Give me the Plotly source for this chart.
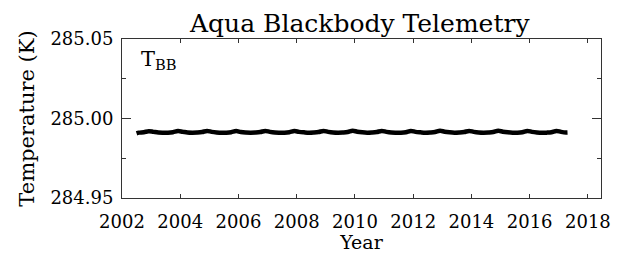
import plotly.graph_objects as go

years = [
    2002.50, 2002.58, 2002.75, 2002.92,
    2003.08, 2003.25, 2003.42, 2003.58, 2003.75, 2003.92,
    2004.08, 2004.25, 2004.42, 2004.58, 2004.75, 2004.92,
    2005.08, 2005.25, 2005.42, 2005.58, 2005.75, 2005.92,
    2006.08, 2006.25, 2006.42, 2006.58, 2006.75, 2006.92,
    2007.08, 2007.25, 2007.42, 2007.58, 2007.75, 2007.92,
    2008.08, 2008.25, 2008.42, 2008.58, 2008.75, 2008.92,
    2009.08, 2009.25, 2009.42, 2009.58, 2009.75, 2009.92,
    2010.08, 2010.25, 2010.42, 2010.58, 2010.75, 2010.92,
    2011.08, 2011.25, 2011.42, 2011.58, 2011.75, 2011.92,
    2012.08, 2012.25, 2012.42, 2012.58, 2012.75, 2012.92,
    2013.08, 2013.25, 2013.42, 2013.58, 2013.75, 2013.92,
    2014.08, 2014.25, 2014.42, 2014.58, 2014.75, 2014.92,
    2015.08, 2015.25, 2015.42, 2015.58, 2015.75, 2015.92,
    2016.08, 2016.25, 2016.42, 2016.58, 2016.75, 2016.92,
    2017.08, 2017.25, 2017.30,
]

temps = [
    284.9907, 284.9911, 284.9914, 284.9920,
    284.9916, 284.9912, 284.9911, 284.9911, 284.9914, 284.9921,
    284.9917, 284.9912, 284.9911, 284.9912, 284.9915, 284.9922,
    284.9916, 284.9912, 284.9910, 284.9911, 284.9914, 284.9921,
    284.9915, 284.9912, 284.9911, 284.9912, 284.9915, 284.9922,
    284.9916, 284.9912, 284.9911, 284.9911, 284.9914, 284.9921,
    284.9916, 284.9913, 284.9911, 284.9912, 284.9915, 284.9922,
    284.9916, 284.9912, 284.9911, 284.9912, 284.9915, 284.9923,
    284.9917, 284.9913, 284.9911, 284.9912, 284.9915, 284.9922,
    284.9916, 284.9912, 284.9911, 284.9911, 284.9914, 284.9922,
    284.9916, 284.9913, 284.9911, 284.9912, 284.9915, 284.9923,
    284.9917, 284.9913, 284.9911, 284.9912, 284.9915, 284.9922,
    284.9916, 284.9912, 284.9911, 284.9912, 284.9915, 284.9923,
    284.9917, 284.9913, 284.9911, 284.9911, 284.9914, 284.9922,
    284.9916, 284.9912, 284.9910, 284.9911, 284.9914, 284.9922,
    284.9916, 284.9912, 284.9912,
]

x_tick_vals = [2002, 2004, 2006, 2008, 2010, 2012, 2014, 2016, 2018]
y_tick_vals = [284.95, 285.00, 285.05]
y_tick_text = ["284.95", "285.00", "285.05"]

SERIF = "DejaVu Serif"
AX = "#333333"

fig = go.Figure()
fig.add_trace(go.Scatter(
    x=years, y=temps, mode="lines",
    line=dict(color="black", width=4.5, shape="spline", smoothing=1.0),
    showlegend=False, hoverinfo="skip",
))

fig.add_annotation(
    x=0.035, y=0.96, xref="paper", yref="paper",
    text="T<sub>BB</sub>", showarrow=False, xanchor="left", yanchor="top",
    font=dict(family=SERIF, size=21, color="black"),
)

# The page body adds an 8px offset, so the figure is sized 615x245.
fig.update_layout(
    width=615, height=245,
    margin=dict(l=114, r=22, t=31, b=55),
    paper_bgcolor="white", plot_bgcolor="white",
    title=dict(text="Aqua Blackbody Telemetry", x=0.572, xanchor="center",
               y=0.975, yanchor="top",
               font=dict(family=SERIF, size=25, color="black")),
    font=dict(family=SERIF, color="black"),
)

fig.update_xaxes(
    range=[2002, 2018.45],
    tickvals=x_tick_vals, ticktext=[str(v) for v in x_tick_vals],
    ticks="inside", ticklen=4, tickcolor=AX, tickwidth=1,
    showline=True, linecolor=AX, linewidth=1, mirror="ticks",
    showgrid=False, zeroline=False, automargin=False,
    ticklabelstandoff=7,
    tickfont=dict(family=SERIF, size=18, color="black"),
    title=dict(text="Year", font=dict(family=SERIF, size=19, color="black"), standoff=2),
)

fig.update_yaxes(
    range=[284.95, 285.05],
    tickvals=y_tick_vals, ticktext=y_tick_text,
    ticks="inside", ticklen=9, tickcolor=AX, tickwidth=1,
    minor=dict(tickvals=[284.975, 285.025], ticks="inside", ticklen=4,
               tickcolor=AX, tickwidth=1, showgrid=False),
    showline=True, linecolor=AX, linewidth=1, mirror="ticks",
    showgrid=False, zeroline=False, automargin=False,
    ticklabelstandoff=4,
    tickfont=dict(family=SERIF, size=18, color="black"),
    title=dict(text="Temperature (K)", font=dict(family=SERIF, size=21, color="black"), standoff=10),
)

fig.write_html("out.html")
